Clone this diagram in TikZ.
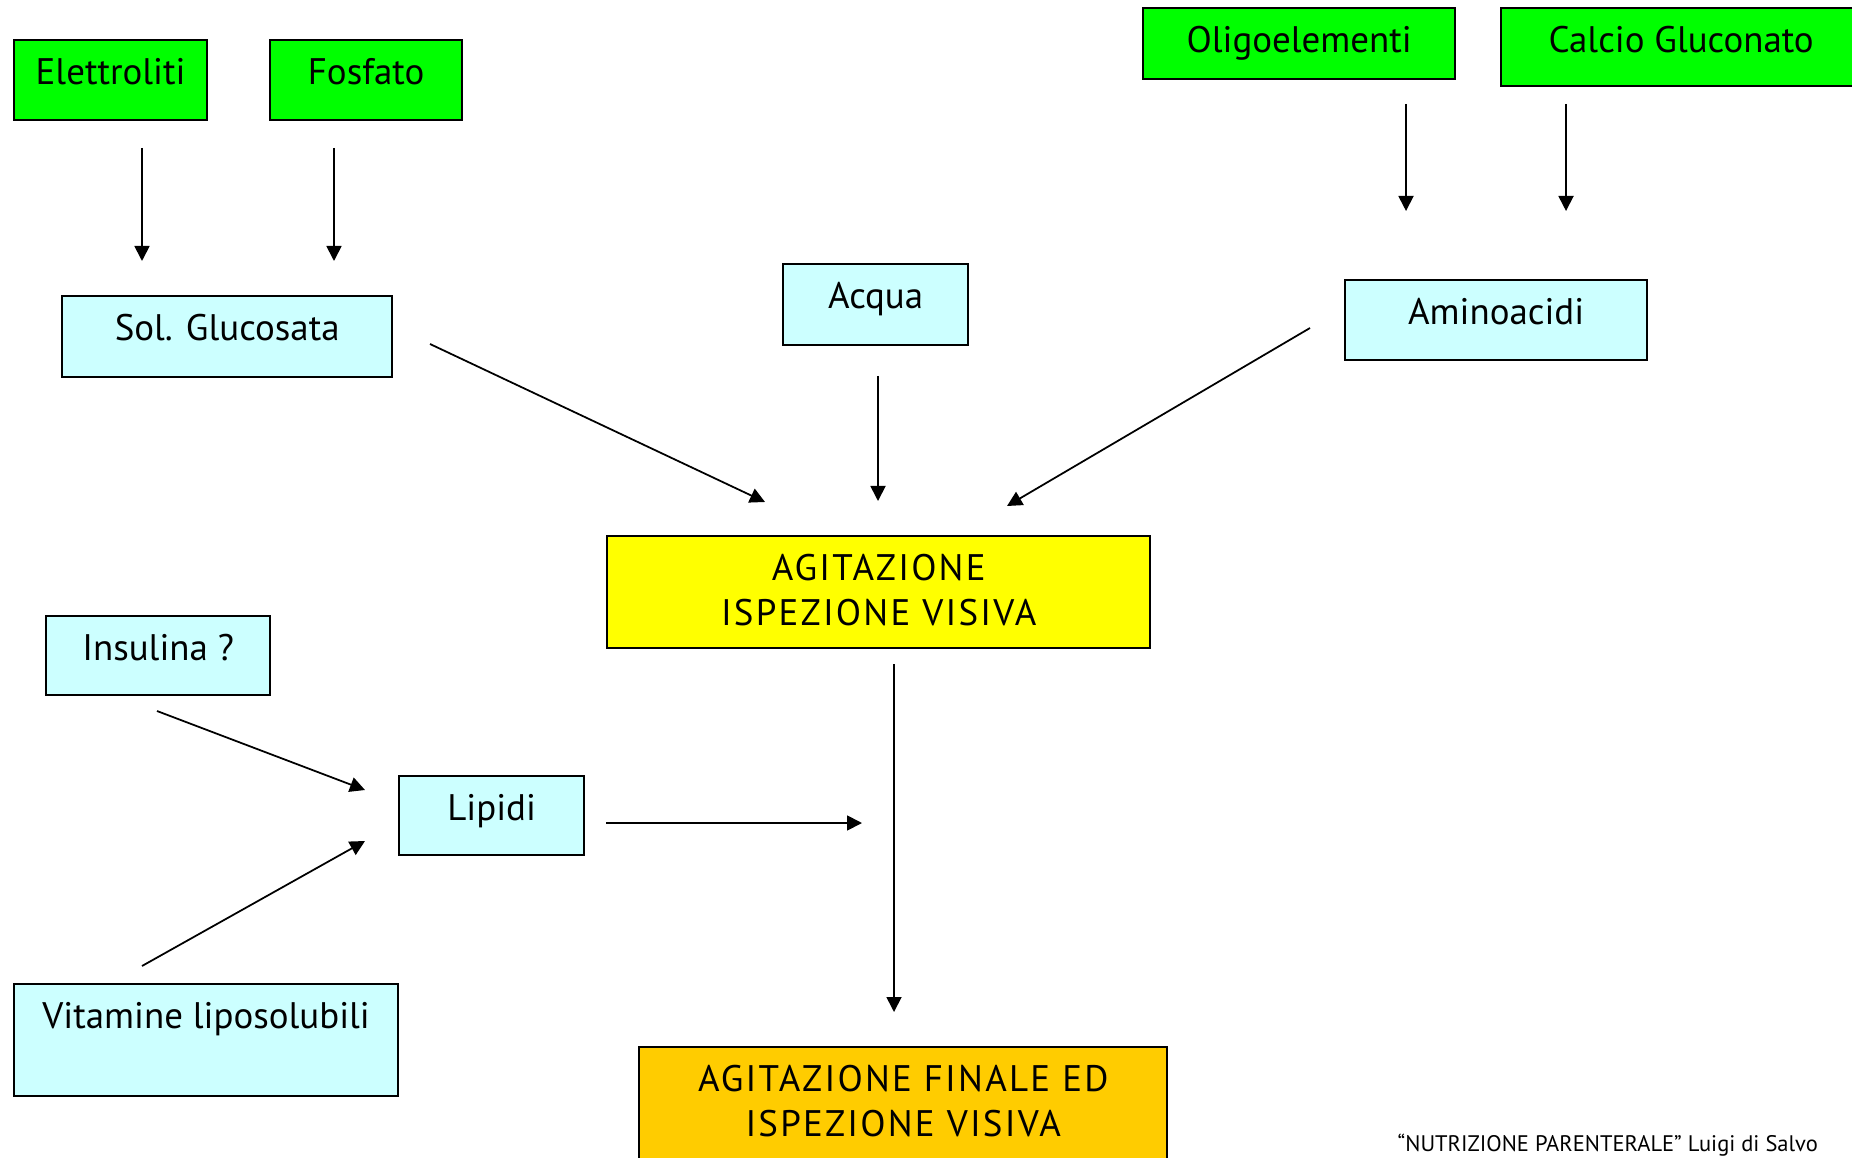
\documentclass[tikz,border=0pt]{standalone}
\usepackage{fontspec}
\setmainfont{PT Sans}
\usepackage{tikz}
\usetikzlibrary{positioning,arrows.meta}
\definecolor{slidegreen}{RGB}{0,255,0}
\definecolor{slidecyan}{RGB}{204,255,255}
\definecolor{slideyellow}{RGB}{255,255,0}
\definecolor{slidegold}{RGB}{255,204,0}
\newcommand{\twolines}[2]{\addfontfeature{LetterSpace=6}\begin{tabular}[t]{@{}c@{}}#1\\#2\end{tabular}}
\tikzset{
  flowarrow/.style={-{Triangle[length=1.5mm,width=1.5mm]}, line width=0.5pt},
  slidebox/.style={draw, line width=0.6pt, inner sep=0pt, text height=4.4mm, anchor=north west, align=center},
  greenbox/.style={slidebox, fill=slidegreen},
  cyanbox/.style={slidebox, fill=slidecyan},
  yellowbox/.style={slidebox, fill=slideyellow},
  goldbox/.style={slidebox, fill=slidegold},
  footer/.style={anchor=base west, inner sep=0pt, font=\fontsize{6.4}{7.5}\selectfont}
}

\begin{document}
\begin{tikzpicture}[x=0.01cm, y=-0.01cm, every node/.append style={font=\fontsize{10.5}{12.8}\selectfont}]
  \useasboundingbox (0,0) rectangle (1852,1158);
  \node[greenbox, minimum width=1.93cm, text depth=3.6mm] (elet) at (13,39) {Elettroliti};
  \node[greenbox, minimum width=1.92cm, text depth=3.6mm] (fosf) at (269,39) {Fosfato};
  \node[greenbox, minimum width=3.12cm, text depth=2.7mm] (oligo) at (1142,7) {Oligoelementi};
  \node[greenbox, minimum width=3.6cm, text depth=3.4mm] (calcio) at (1500,7) {Calcio Gluconato};
  \node[cyanbox, minimum width=3.3cm, text depth=3.7mm] (sol) at (61,295) {Sol. Glucosata};
  \node[cyanbox, minimum width=1.85cm, text depth=3.7mm] (acqua) at (782,263) {Acqua};
  \node[cyanbox, minimum width=3.02cm, text depth=3.6mm] (amino) at (1344,279) {Aminoacidi};
  \node[yellowbox, minimum width=5.43cm, text depth=6.8mm] (agit) at (606,535) {\twolines{AGITAZIONE}{ISPEZIONE VISIVA}};
  \node[cyanbox, minimum width=2.24cm, text depth=3.5mm] (insul) at (45,615) {Insulina ?};
  \node[cyanbox, minimum width=1.85cm, text depth=3.5mm] (lipidi) at (398,775) {Lipidi};
  \node[cyanbox, minimum width=3.84cm, text depth=6.8mm] (vitam) at (13,983) {Vitamine liposolubili};
  \node[goldbox, minimum width=5.28cm, text depth=8.6mm] (final) at (638,1046) {\twolines{AGITAZIONE FINALE ED}{ISPEZIONE VISIVA}};
  \node[footer] (credit) at (1397,1151) {“NUTRIZIONE PARENTERALE” Luigi di Salvo};

  \coordinate (eletA) at (142,148);   \coordinate (eletB) at (142,261);
  \coordinate (fosfA) at (334,148);   \coordinate (fosfB) at (334,261);
  \coordinate (oligoA) at (1406,104); \coordinate (oligoB) at (1406,211);
  \coordinate (calcioA) at (1566,104);\coordinate (calcioB) at (1566,211);
  \coordinate (solA) at (430,344);    \coordinate (solB) at (765,502);
  \coordinate (acquaA) at (878,376);  \coordinate (acquaB) at (878,501);
  \coordinate (aminoA) at (1310,328); \coordinate (aminoB) at (1007,506);
  \coordinate (agitA) at (894,664);   \coordinate (agitB) at (894,1012);
  \coordinate (insulA) at (157,711);  \coordinate (insulB) at (365,790);
  \coordinate (vitamA) at (142,966);  \coordinate (vitamB) at (365,841);
  \coordinate (lipidiA) at (606,823); \coordinate (lipidiB) at (862,823);

  \draw[flowarrow] (eletA) -- (eletB);
  \draw[flowarrow] (fosfA) -- (fosfB);
  \draw[flowarrow] (oligoA) -- (oligoB);
  \draw[flowarrow] (calcioA) -- (calcioB);
  \draw[flowarrow] (solA) -- (solB);
  \draw[flowarrow] (acquaA) -- (acquaB);
  \draw[flowarrow] (aminoA) -- (aminoB);
  \draw[flowarrow] (agitA) -- (agitB);
  \draw[flowarrow] (insulA) -- (insulB);
  \draw[flowarrow] (vitamA) -- (vitamB);
  \draw[flowarrow] (lipidiA) -- (lipidiB);
\end{tikzpicture}
\end{document}
